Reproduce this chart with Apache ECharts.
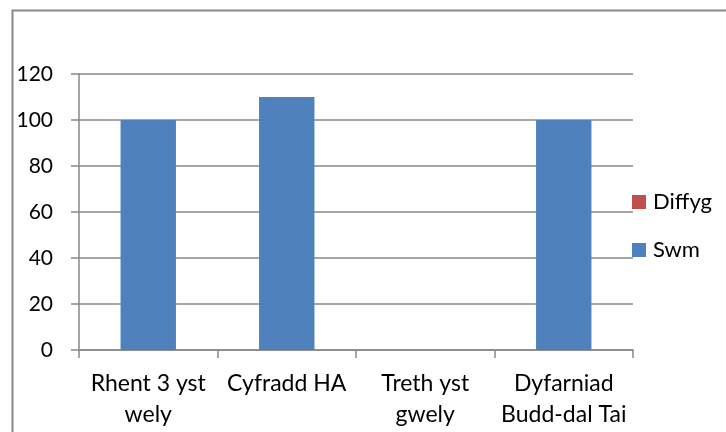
<!DOCTYPE html>
<html>
<head>
<meta charset="utf-8">
<script src="https://cdn.jsdelivr.net/npm/echarts@6/dist/echarts.min.js"></script>
<style>
html,body{margin:0;padding:0;background:#fff;}
#chart{width:726px;height:432px;}
</style>
</head>
<body>
<div id="chart"></div>
<script>
var categories = ['Rhent 3 yst\nwely', 'Cyfradd HA', 'Treth yst\ngwely', 'Dyfarniad\nBudd-dal Tai'];
var swm_list = [100, 110, 0, 100];
var diffyg_list = [0, 0, 0, 0];

var font = 'Lato';
var gray = '#888888';

var chart = echarts.init(document.getElementById('chart'));
chart.setOption({
	animation: false,
	color: ['#4F81BD', '#C0504D'],
	graphic: [{
		type: 'rect',
		left: 10,
		top: 8,
		shape: {width: 800, height: 500},
		style: {fill: 'none', stroke: gray, lineWidth: 2}
	}],
	legend: {
		orient: 'vertical',
		left: 627,
		top: 186,
		itemWidth: 14,
		itemHeight: 14,
		itemGap: 26,
		icon: 'rect',
		data: ['Diffyg', 'Swm'],
		textStyle: {fontFamily: font, fontSize: 22, color: '#000', padding: [0, 0, 0, 2]}
	},
	grid: {
		left: 79,
		right: 93,
		top: 74,
		bottom: 82,
		containLabel: false
	},
	xAxis: {
		type: 'category',
		data: categories,
		axisLine: {lineStyle: {color: gray, width: 1.5}},
		axisTick: {show: true, length: 8, lineStyle: {color: gray, width: 1.5}},
		axisLabel: {
			interval: 0,
			margin: 18,
			fontFamily: font,
			fontSize: 23,
			lineHeight: 31,
			color: '#000'
		}
	},
	yAxis: {
		type: 'value',
		min: 0,
		max: 120,
		interval: 20,
		axisLine: {show: true, lineStyle: {color: gray, width: 1.5}},
		axisTick: {show: true, length: 8, lineStyle: {color: gray, width: 1.5}},
		splitLine: {lineStyle: {color: gray, width: 1.5}},
		axisLabel: {margin: 26, fontFamily: font, fontSize: 21, color: '#000'}
	},
	series: [{
		name: 'Swm',
		type: 'bar',
		stack: 'total',
		barWidth: '40%',
		data: swm_list
	}, {
		name: 'Diffyg',
		type: 'bar',
		stack: 'total',
		barWidth: '40%',
		data: diffyg_list
	}]
});
</script>
</body>
</html>
